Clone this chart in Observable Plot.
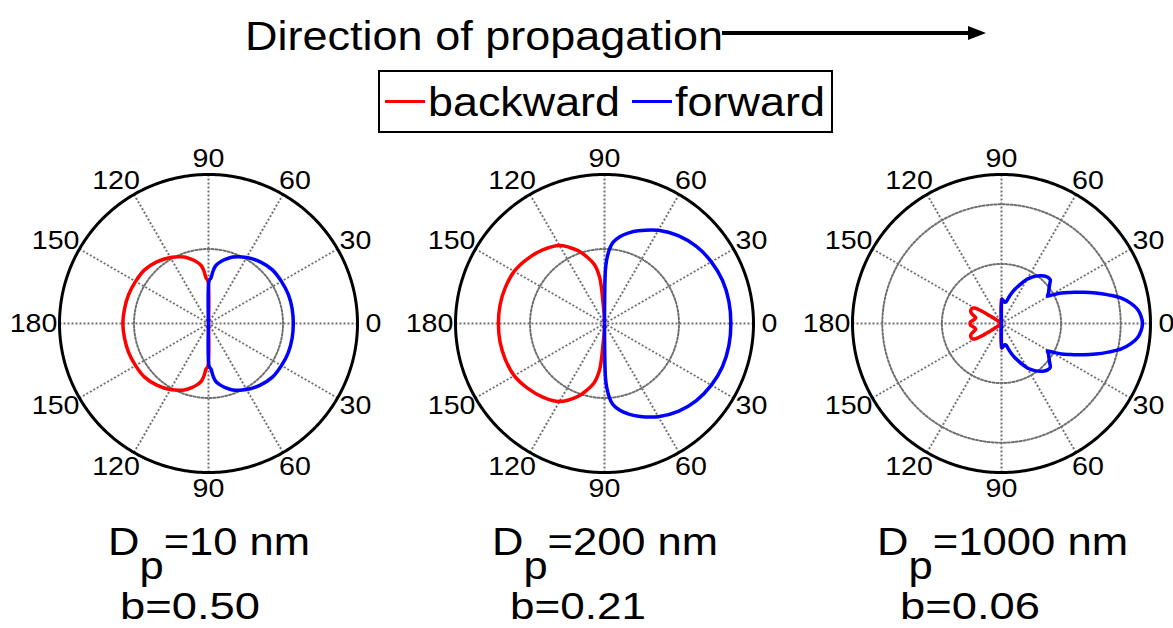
<!DOCTYPE html>
<html>
<head>
<meta charset="utf-8">
<script src="https://cdn.jsdelivr.net/npm/d3@7"></script>
<script src="https://cdn.jsdelivr.net/npm/@observablehq/plot@0.6"></script>
<style>
  html, body { margin: 0; padding: 0; background: #fff; }
  #fig { position: relative; width: 1173px; height: 628px; overflow: hidden;
         font-family: "Liberation Sans", Arial, Helvetica, sans-serif; color: #000; }
  .abs { position: absolute; white-space: nowrap; line-height: 1; }
  .panel { position: absolute; }
  .legend { position: absolute; border: 2px solid #000; box-sizing: border-box; background: #fff; }
  .swatch { position: absolute; height: 3px; }
</style>
</head>
<body>
<div id="fig"></div>
<script>
// ---- Panels: particle diameter and asymmetry parameter ----
const diameters = ["10", "200", "1000"];          // D_p in nm
const asymmetry = ["0.50", "0.21", "0.06"];       // b
const radialMax = [1, 1, 1.25];                   // outer ring value
const radialRings = [[0.5], [0.5], [0.5, 1.0]];   // dotted ring values

// ---- Angular grid ----
const spokeAngles = [0, 30, 60, 90, 120, 150];
const tickAngles = [0, 30, 60, 90, 120, 150, 180, 210, 240, 270, 300, 330];
const tickLabels = ["0", "30", "60", "90", "120", "150", "180", "150", "120", "90", "60", "30"];

// ---- Scattered intensity, upper half (curves are symmetric about 0–180) ----
// D_p = 10 nm
const fwdAngles10 = [0, 10, 20, 30, 40, 50, 60, 70, 75, 80, 83, 85, 87, 89, 90];
const fwdR10      = [0.569, 0.570, 0.570, 0.565, 0.560, 0.540, 0.512, 0.475, 0.447, 0.415, 0.390, 0.355, 0.305, 0.290, 0];
const bwdAngles10 = [90, 91, 93, 95, 97, 100, 105, 110, 120, 130, 140, 150, 160, 170, 180];
const bwdR10      = [0, 0.290, 0.305, 0.355, 0.390, 0.415, 0.447, 0.475, 0.512, 0.540, 0.560, 0.565, 0.570, 0.572, 0.575];

// D_p = 200 nm
const fwdAngles200 = [0, 10, 20, 30, 40, 50, 60, 70, 75, 80, 84, 86, 88, 89, 90];
const fwdR200      = [0.848, 0.848, 0.843, 0.828, 0.805, 0.770, 0.722, 0.662, 0.630, 0.592, 0.548, 0.505, 0.430, 0.360, 0];
const bwdAngles200 = [90, 92, 94, 96, 100, 105, 110, 120, 130, 140, 150, 160, 170, 180];
const bwdR200      = [0, 0.060, 0.140, 0.310, 0.405, 0.465, 0.520, 0.605, 0.645, 0.675, 0.700, 0.708, 0.712, 0.712];

// D_p = 1000 nm
const fwdAngles1000 = [0, 3, 6, 9, 12, 15, 18, 21, 24, 27, 30, 31, 33, 36, 39, 42, 45, 48, 51, 54, 57, 60, 63, 66, 69, 72, 75, 78, 81, 84, 87, 89, 90];
const fwdR1000      = [1.183, 1.172, 1.147, 1.096, 1.028, 0.928, 0.831, 0.734, 0.640, 0.564, 0.470, 0.450, 0.470, 0.492, 0.520, 0.550, 0.549, 0.537, 0.516, 0.491, 0.461, 0.428, 0.386, 0.341, 0.303, 0.263, 0.221, 0.185, 0.180, 0.189, 0.197, 0.205, 0];
const bwdAngles1000 = [90, 91, 93, 96, 100, 110, 120, 130, 140, 144, 146, 147, 148, 149.5, 152, 156, 160, 164, 167, 170, 174, 177, 180];
const bwdR1000      = [0.204, 0.168, 0.084, 0.034, 0.017, 0.013, 0.013, 0.015, 0.017, 0.042, 0.100, 0.151, 0.201, 0.252, 0.275, 0.281, 0.273, 0.243, 0.222, 0.225, 0.243, 0.260, 0.263];

const forward = [[fwdAngles10, fwdR10], [fwdAngles200, fwdR200], [fwdAngles1000, fwdR1000]];
const backward = [[bwdAngles10, bwdR10], [bwdAngles200, bwdR200], [bwdAngles1000, bwdR1000]];

const seriesNames = ["backward", "forward"];
const seriesColors = ["#ff0000", "#0000ff"];

// ---- Layout ----
const fig = document.getElementById("fig");
const RING_PX = 149;             // pixel radius of the outer ring
const PW = 400, PH = 340;        // size of each polar SVG
const panelCenters = [208, 604, 1001];
const panelCenterY = 323;
const rad = d => d * Math.PI / 180;

// full closed lobe from the upper-half samples
function forwardLobe(angles, radii) {
  const pts = [];
  for (let i = angles.length - 1; i >= 0; i--) pts.push({a: -angles[i], r: radii[i]});
  for (let i = 1; i < angles.length; i++) pts.push({a: angles[i], r: radii[i]});
  return pts;
}
function backwardLobe(angles, radii) {
  const pts = [];
  for (let i = 0; i < angles.length; i++) pts.push({a: angles[i], r: radii[i]});
  for (let i = angles.length - 2; i >= 0; i--) pts.push({a: 360 - angles[i], r: radii[i]});
  return pts;
}
function circle(r) {
  return d3.range(0, 361, 1).map(a => ({a, r}));
}

function polarPanel(k) {
  const rMax = radialMax[k];
  const px = p => (p.r / rMax) * Math.cos(rad(p.a));
  const py = p => (p.r / rMax) * Math.sin(rad(p.a));
  const grid = {stroke: "#707070", strokeWidth: 2, strokeDasharray: "2,2"};
  const labelR = 165 / RING_PX;
  const lx = a => labelR * Math.cos(rad(a));
  const ly = a => labelR * Math.sin(rad(a));
  const idx = d3.range(tickAngles.length);
  const textStyle = {fontSize: 26, fill: "#000", fontFamily: "Liberation Sans, Arial, sans-serif"};
  const leftIdx = idx.filter(i => Math.cos(rad(tickAngles[i])) < -0.1);
  const rightIdx = idx.filter(i => { const c = Math.cos(rad(tickAngles[i])); return c > 0.1 && c < 0.99; });
  const midIdx = idx.filter(i => !leftIdx.includes(i) && !rightIdx.includes(i));
  const labelMark = (ids, dx) => Plot.text(ids, {
    x: i => lx(tickAngles[i]), y: i => ly(tickAngles[i]),
    text: i => tickLabels[i], dx, textAnchor: "middle", ...textStyle
  });
  const [fa, fr] = forward[k];
  const [ba, br] = backward[k];
  const curveStyle = {x: px, y: py, strokeWidth: 3.5, strokeLinejoin: "round", curve: "catmull-rom"};
  return Plot.plot({
    width: PW, height: PH, margin: 0,
    x: {domain: [-PW / 2 / RING_PX, PW / 2 / RING_PX], axis: null},
    y: {domain: [-PH / 2 / RING_PX, PH / 2 / RING_PX], axis: null},
    style: {background: "transparent", overflow: "visible"},
    marks: [
      Plot.link(spokeAngles, {
        x1: a => Math.cos(rad(a)), y1: a => Math.sin(rad(a)),
        x2: a => -Math.cos(rad(a)), y2: a => -Math.sin(rad(a)), ...grid
      }),
      ...radialRings[k].map(v => Plot.line(circle(v), {x: px, y: py, ...grid, curve: "linear"})),
      Plot.line(circle(rMax), {x: px, y: py, stroke: "#000", strokeWidth: 3}),
      Plot.line(backwardLobe(ba, br), {...curveStyle, stroke: seriesColors[0]}),
      Plot.line(forwardLobe(fa, fr), {...curveStyle, stroke: seriesColors[1]}),
      labelMark(leftIdx, -10),
      labelMark(rightIdx, 4),
      labelMark(midIdx, 0)
    ]
  });
}

// wide-set lettering: stretch a text block to a given width
function addText(html, left, baseline, size, width) {
  const el = document.createElement("div");
  el.className = "abs";
  el.style.fontSize = size + "px";
  el.style.left = left + "px";
  el.style.top = (baseline - 0.8465 * size) + "px";
  el.innerHTML = html;
  fig.appendChild(el);
  const natural = el.getBoundingClientRect().width;
  el.style.transformOrigin = "0 0";
  el.style.transform = `scaleX(${width / natural})`;
  return el;
}

// ---- Title with propagation arrow ----
addText("Direction of propagation", 245, 51, 41, 478);
const arrowNS = "http://www.w3.org/2000/svg";
const arrow = document.createElementNS(arrowNS, "svg");
arrow.setAttribute("width", 280); arrow.setAttribute("height", 30);
arrow.style.position = "absolute"; arrow.style.left = "720px"; arrow.style.top = "18px";
arrow.innerHTML = `<line x1="2" y1="15" x2="252" y2="15" stroke="#000" stroke-width="4"/>
  <path d="M248,8 L266,15 L248,22 Z" fill="#000"/>`;
fig.appendChild(arrow);

// ---- Legend ----
const legend = document.createElement("div");
legend.className = "legend";
Object.assign(legend.style, {left: "378px", top: "70px", width: "455px", height: "63px"});
fig.appendChild(legend);
const swatchLeft = [385, 632], textLeft = [428, 675], textWidth = [192, 150];
seriesNames.forEach((name, i) => {
  const sw = document.createElement("div");
  sw.className = "swatch";
  Object.assign(sw.style, {left: swatchLeft[i] + "px", top: "100px", width: "40px", background: seriesColors[i]});
  fig.appendChild(sw);
  addText(name, textLeft[i], 117, 41, textWidth[i]);
});

// ---- Polar panels ----
diameters.forEach((d, k) => {
  const svg = polarPanel(k);
  svg.classList.add("panel");
  svg.style.left = (panelCenters[k] - PW / 2) + "px";
  svg.style.top = (panelCenterY - PH / 2) + "px";
  fig.appendChild(svg);
  svg.querySelectorAll("text").forEach(t => {
    const w = t.getComputedTextLength();
    t.setAttribute("textLength", (w * 1.1).toFixed(1));
    t.setAttribute("lengthAdjust", "spacingAndGlyphs");
  });
});

// ---- Captions ----
const captionLeft = [108, 492, 877], captionWidth = [202, 226, 251];
const bLeft = [120, 510, 900], bWidth = [140, 136, 140];
diameters.forEach((d, k) => {
  addText(`D<span style="position:relative;top:24px">p</span>=${d} nm`, captionLeft[k], 555, 39, captionWidth[k]);
  addText(`b=${asymmetry[k]}`, bLeft[k], 619, 37, bWidth[k]);
});
</script>
</body>
</html>
